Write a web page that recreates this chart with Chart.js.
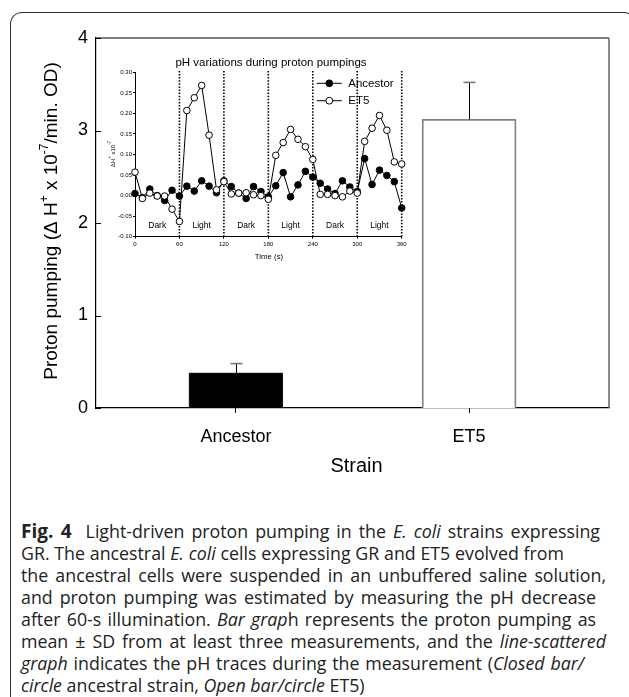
<!DOCTYPE html>
<html><head><meta charset="utf-8">
<script src="https://cdn.jsdelivr.net/npm/chart.js@4"></script>
<style>
html,body{margin:0;padding:0;background:#fff;}
#wrap{position:relative;width:629px;height:697px;overflow:hidden;background:#fff;}
#frame{position:absolute;left:10px;top:12px;width:622px;height:720px;border-top:1px solid #333;border-left:1px solid #333;border-right:1px solid #333;border-top-left-radius:12px;border-top-right-radius:10px;}
#main{position:absolute;left:0;top:0;}
#inset{position:absolute;left:100px;top:50px;}
#cap{position:absolute;left:21px;top:520px;font-family:"Open Sans",sans-serif;font-size:17.8px;line-height:22px;color:#222;}
#cap div{white-space:nowrap;text-align:justify;text-align-last:justify;}
#cap div.last{text-align:left;text-align-last:left;}
#cap i{font-style:italic;}
#cap b{font-size:19px;}
</style></head>
<body>
<div id="wrap">
<div id="frame"></div>
<canvas id="main" width="629" height="500"></canvas>
<canvas id="inset" width="320" height="215"></canvas>
<div id="cap">
<div style="width:579px"><b>Fig. 4</b>&nbsp;&nbsp;Light-driven proton pumping in the <i>E. coli</i> strains expressing</div>
<div style="width:543px">GR. The ancestral <i>E. coli</i> cells expressing GR and ET5 evolved from</div>
<div style="width:585px">the ancestral cells were suspended in an unbuffered saline solution,</div>
<div style="width:575px">and proton pumping was estimated by measuring the pH decrease</div>
<div style="width:575px">after 60-s illumination. <i>Bar grap</i>h represents the proton pumping as</div>
<div style="width:585px">mean ± SD from at least three measurements, and the <i>line-scattered</i></div>
<div style="width:563px"><i>graph</i> indicates the pH traces during the measurement (<i>Closed bar/</i></div>
<div class="last"><i>circle</i> ancestral strain, <i>Open bar/circle</i> ET5)</div>
</div>
</div>
<script>
// ---- main bar chart data ----
const strains = ['Ancestor', 'ET5'];
const pumping = [0.38, 3.12];
const pumpingSD = [0.10, 0.40];
const mainYTicks = [0, 1, 2, 3, 4];
const mainXTitle = 'Strain';
const mainYTitle = [['Proton pumping (\u0394 H', false], ['+', true], [' x 10', false], ['-7', true], ['/min. OD)', false]];

// ---- inset line chart data ----
const insetTitle = 'pH variations during proton pumpings';
const times = [0,10,20,30,40,50,60,70,80,90,100,110,120,130,140,150,160,170,180,190,200,210,220,230,240,250,260,270,280,290,300,310,320,330,340,350,360];
const ancestorTrace = [0.005,-0.005,0.016,0.000,-0.012,0.013,-0.001,0.023,0.011,0.036,0.023,0.007,0.036,0.022,0.006,-0.007,0.022,0.010,-0.003,0.024,0.056,-0.003,0.026,0.059,0.045,0.030,0.016,0.005,0.036,0.021,0.010,0.090,0.027,0.062,0.049,0.034,-0.030];
const et5Trace = [0.057,-0.007,0.006,-0.001,-0.001,-0.033,-0.063,0.207,0.238,0.268,0.147,0.014,0.034,0.004,0.006,0.007,0.002,0.000,-0.009,0.098,0.129,0.161,0.137,0.119,0.088,0.003,0.003,0.000,-0.003,0.011,0.006,0.132,0.164,0.195,0.159,0.082,0.077];
const insetYTicks = [-0.10,-0.05,0.00,0.05,0.10,0.15,0.20,0.25,0.30];
const insetXTicks = [0,60,120,180,240,300,360];
const phaseEdges = [60,120,180,240,300,360];
const phaseMid = [30,90,150,210,270,330];
const phaseNames = ['Dark','Light','Dark','Light','Dark','Light'];
const phaseLabelY = -0.072;
const insetXTitle = 'Time (s)';
const insetYTitle = [['\u0394H', false], ['+', true], [' x10', false], ['-7', true]];
const seriesNames = ['Ancestor', 'ET5'];

const FF = '"Liberation Sans", Arial, sans-serif';

function drawRich(ctx, parts, size, supSize, rise) {
  let total = 0;
  const w = parts.map(([t, s]) => { ctx.font = (s ? supSize : size) + 'px ' + FF; const m = ctx.measureText(t).width; total += m; return m; });
  let x = -total / 2;
  parts.forEach(([t, s], i) => {
    ctx.font = (s ? supSize : size) + 'px ' + FF;
    ctx.fillText(t, x, s ? -rise : 0);
    x += w[i];
  });
}

const mainDeco = {
  id: 'mainDeco',
  afterDraw(chart) {
    const {ctx, chartArea: a, scales: {x, y}} = chart;
    ctx.save();
    ctx.strokeStyle = '#000'; ctx.lineWidth = 1.2;
    ctx.beginPath(); ctx.moveTo(a.left, a.top); ctx.lineTo(a.right, a.top); ctx.stroke();
    ctx.strokeStyle = '#666'; ctx.lineWidth = 1.5;
    ctx.beginPath(); ctx.moveTo(a.right, a.top); ctx.lineTo(a.right, a.bottom); ctx.stroke();
    ctx.strokeStyle = '#000'; ctx.lineWidth = 1;
    mainYTicks.forEach(v => { const py = Math.round(y.getPixelForValue(v)) + 0.5; ctx.beginPath(); ctx.moveTo(a.left, py); ctx.lineTo(a.left + 5, py); ctx.stroke(); });
    strains.forEach((s, i) => {
      const px = Math.round(x.getPixelForValue(i)) + 0.5;
      const y0 = y.getPixelForValue(pumping[i]);
      const y1 = y.getPixelForValue(pumping[i] + pumpingSD[i]);
      ctx.strokeStyle = '#000'; ctx.lineWidth = 1;
      ctx.beginPath(); ctx.moveTo(px, y0); ctx.lineTo(px, y1); ctx.stroke();
      ctx.strokeStyle = '#777'; ctx.lineWidth = 1.6;
      ctx.beginPath(); ctx.moveTo(px - 6, y1); ctx.lineTo(px + 6, y1); ctx.stroke();
    });
    ctx.fillStyle = '#000'; ctx.textBaseline = 'middle'; ctx.textAlign = 'left';
    ctx.font = '20px ' + FF;
    const tw = ctx.measureText(mainXTitle).width;
    ctx.fillText(mainXTitle, (a.left + a.right) / 2 - tw / 2 + 4, 466);
    ctx.translate(52, (a.top + a.bottom) / 2 - 2);
    ctx.rotate(-Math.PI / 2);
    drawRich(ctx, mainYTitle, 19, 12, 7);
    ctx.restore();
  }
};

new Chart(document.getElementById('main'), {
  type: 'bar',
  data: {
    datasets: [{
      label: 'Proton pumping',
      data: strains.map((s, i) => ({x: i, y: pumping[i]})),
      backgroundColor: ['#000', '#fff'],
      borderColor: ['#222', '#808080'],
      borderWidth: [1, 1.8],
      barThickness: 94
    }]
  },
  options: {
    responsive: false, animation: false, devicePixelRatio: 1,
    layout: {padding: {top: 38, right: 20, left: 0, bottom: 0}},
    plugins: {legend: {display: false}, tooltip: {enabled: false}},
    scales: {
      x: {
        type: 'linear', min: -0.6, max: 1.6, offset: false,
        afterBuildTicks: s => { s.ticks = strains.map((_, i) => ({value: i})); },
        afterFit: s => { s.height = 92; },
        ticks: {callback: v => strains[v], font: {family: FF, size: 18}, color: '#000', padding: 13, maxRotation: 0, autoSkip: false},
        grid: {drawOnChartArea: false, drawTicks: true, tickLength: 5, color: '#000', offset: false},
        border: {color: '#000', width: 1.2}
      },
      y: {
        min: 0, max: 4,
        afterBuildTicks: s => { s.ticks = mainYTicks.map(v => ({value: v})); },
        afterFit: s => { s.width = 96; },
        ticks: {font: {family: FF, size: 18}, color: '#000', padding: 8},
        grid: {display: false, drawTicks: false},
        border: {color: '#000', width: 1.2}
      }
    }
  },
  plugins: [mainDeco]
});

const insetDeco = {
  id: 'insetDeco',
  beforeDatasetsDraw(chart) {
    const {ctx, chartArea: a, scales: {x, y}} = chart;
    ctx.save();
    ctx.strokeStyle = '#000'; ctx.lineWidth = 1.6; ctx.setLineDash([1.5, 1.6]);
    phaseEdges.forEach(t => { const px = x.getPixelForValue(t); ctx.beginPath(); ctx.moveTo(px, a.bottom); ctx.lineTo(px, a.top - 2); ctx.stroke(); });
    ctx.setLineDash([]);
    ctx.fillStyle = '#000'; ctx.font = '8.5px ' + FF; ctx.textAlign = 'center'; ctx.textBaseline = 'middle';
    phaseMid.forEach((t, i) => ctx.fillText(phaseNames[i], x.getPixelForValue(t), y.getPixelForValue(phaseLabelY)));
    ctx.restore();
  },
  afterDraw(chart) {
    const {ctx} = chart;
    ctx.save();
    ctx.fillStyle = '#000'; ctx.textBaseline = 'middle'; ctx.textAlign = 'center';
    ctx.font = '11.5px ' + FF;
    ctx.fillText(insetTitle, 171, 13);
    ctx.font = '7.8px ' + FF;
    ctx.fillText(insetXTitle, 169, 207);
    const ys = [33.3, 50.7];
    const fills = ['#000', '#fff'];
    seriesNames.forEach((n, i) => {
      ctx.strokeStyle = '#000'; ctx.lineWidth = 1;
      ctx.beginPath(); ctx.moveTo(216.7, ys[i]); ctx.lineTo(241.7, ys[i]); ctx.stroke();
      ctx.beginPath(); ctx.arc(229.3, ys[i], 3.4, 0, Math.PI * 2); ctx.fillStyle = fills[i]; ctx.fill(); ctx.stroke();
      ctx.fillStyle = '#000'; ctx.textAlign = 'left'; ctx.font = '11.5px ' + FF;
      ctx.fillText(n, 248.3, ys[i] + 0.5);
    });
    ctx.textAlign = 'left';
    ctx.translate(13, 104);
    ctx.rotate(-Math.PI / 2);
    drawRich(ctx, insetYTitle, 6, 4.5, 3);
    ctx.restore();
  }
};

const common = {borderColor: '#000', borderWidth: 1, pointRadius: 3.3, pointBorderColor: '#000', pointBorderWidth: 1, tension: 0, clip: false};
new Chart(document.getElementById('inset'), {
  type: 'line',
  data: {
    datasets: [
      Object.assign({label: seriesNames[1], data: times.map((t, i) => ({x: t, y: et5Trace[i]})), pointBackgroundColor: '#fff', backgroundColor: '#fff', order: 0}, common),
      Object.assign({label: seriesNames[0], data: times.map((t, i) => ({x: t, y: ancestorTrace[i]})), pointBackgroundColor: '#000', backgroundColor: '#000', order: 1}, common)
    ]
  },
  options: {
    responsive: false, animation: false, devicePixelRatio: 1,
    layout: {padding: {top: 22.3, right: 18.3, left: 0, bottom: 0}},
    plugins: {legend: {display: false}, tooltip: {enabled: false}},
    scales: {
      x: {
        type: 'linear', min: 0, max: 360,
        afterBuildTicks: s => { s.ticks = insetXTicks.map(v => ({value: v})); },
        afterFit: s => { s.height = 28.3; },
        ticks: {font: {family: FF, size: 6}, color: '#000', padding: 2, maxRotation: 0, autoSkip: false},
        grid: {drawOnChartArea: false, drawTicks: true, tickLength: 2, color: '#000'},
        border: {color: '#000', width: 1}
      },
      y: {
        min: -0.10, max: 0.30,
        afterBuildTicks: s => { s.ticks = insetYTicks.map(v => ({value: v})); },
        afterFit: s => { s.width = 35; },
        ticks: {callback: v => Number(v).toFixed(2), font: {family: FF, size: 6}, color: '#000', padding: 1, autoSkip: false},
        grid: {drawOnChartArea: false, drawTicks: true, tickLength: 2, color: '#000'},
        border: {color: '#000', width: 1}
      }
    }
  },
  plugins: [insetDeco]
});
</script>
</body></html>
